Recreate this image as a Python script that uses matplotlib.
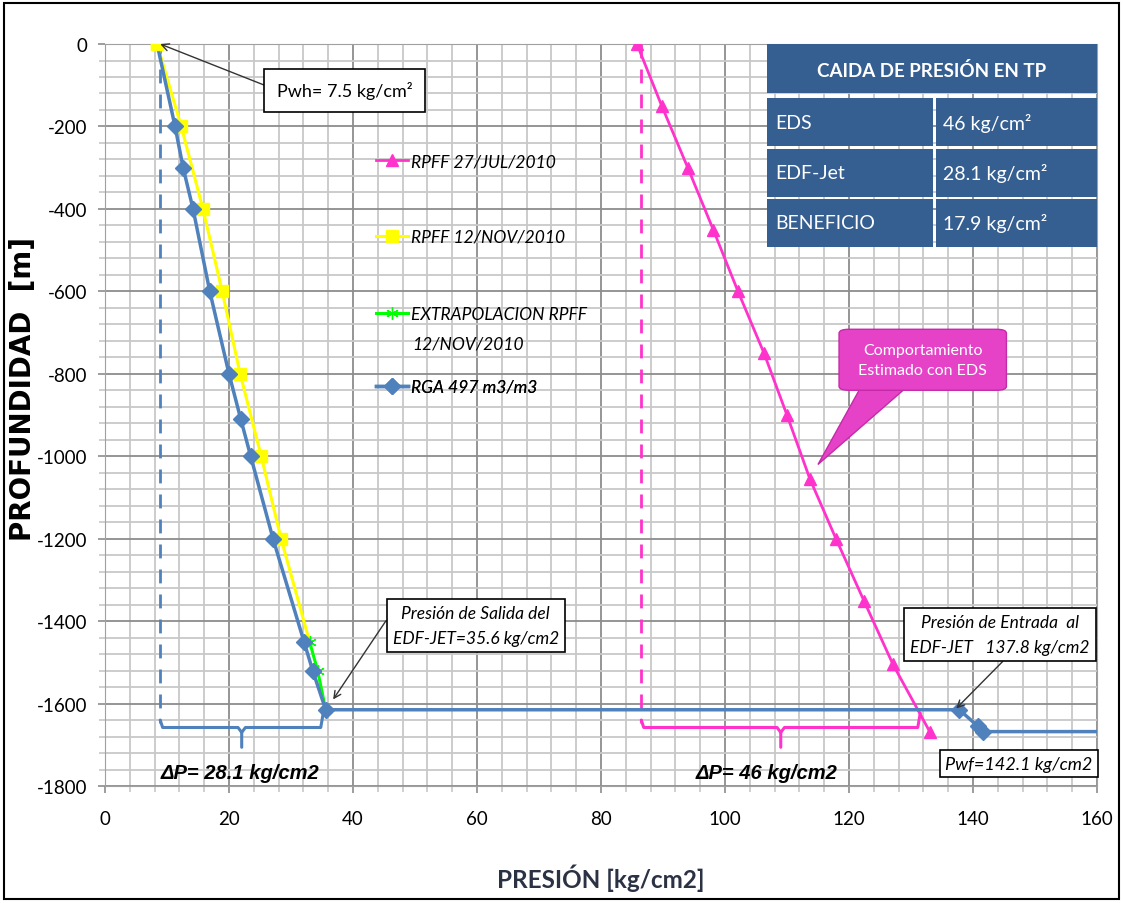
import numpy as np
import matplotlib
matplotlib.use('Agg')
import matplotlib.pyplot as plt
from matplotlib.patches import FancyBboxPatch, Polygon, Rectangle

plt.rcParams['axes.unicode_minus'] = False

# Data
# RPFF 27/JUL/2010 (pink triangles)
jul_p = [85.8, 89.8, 94.0, 98.1, 102.1, 106.3, 110.0, 113.7, 117.9, 122.4, 127.1, 133.1]
jul_d = [0, -150, -300, -450, -600, -750, -900, -1055, -1200, -1350, -1505, -1670]

# RPFF 12/NOV/2010 (yellow squares)
nov_p = [8.4, 12.3, 15.8, 18.9, 21.8, 25.2, 28.4, 33.0]
nov_d = [0, -200, -400, -600, -800, -1000, -1200, -1450]

# extrapolacion RPFF 12/NOV/2010 (green)
ext_p = [33.0, 34.3, 35.6]
ext_d = [-1450, -1520, -1615]

# RGA 497 m3/m3 (blue diamonds)
rga_p = [8.4, 11.3, 12.6, 14.2, 16.9, 20.0, 21.9, 23.5, 27.1, 32.1, 33.5, 35.6, 137.8, 140.8, 141.6, 160.0]
rga_d = [0, -200, -300, -400, -600, -800, -910, -1000, -1200, -1450, -1520, -1615, -1615, -1655, -1668, -1668]
rga_mark = [1, 2, 3, 4, 5, 6, 7, 8, 9, 10, 11, 12, 13, 14]

# table
tabla_titulo = 'CAIDA DE PRESIÓN EN TP'
tabla_filas = ['EDS', 'EDF-Jet', 'BENEFICIO']
tabla_vals = ['46 kg/cm²', '28.1 kg/cm²', '17.9 kg/cm²']

# brackets (delta P)
pwh_line = 8.9
eds_line = 86.5
salida = 35.2
entrada = 131.5
brace_d = -1658

c_blue = '#4F81BD'
c_pink = '#FF33CC'
c_yel = '#FFFF00'
c_grn = '#00FF00'
c_tab = '#365F91'

fig = plt.figure(figsize=(11.23, 9.04), dpi=100)
ax = fig.add_axes([0.0935, 0.1294, 0.8833, 0.8208])

ax.set_xlim(0, 160)
ax.set_ylim(-1800, 0)
ax.set_xticks(np.arange(0, 161, 20))
ax.set_yticks(np.arange(-1800, 1, 200))
ax.set_xticks(np.arange(0, 161, 4), minor=True)
ax.set_yticks(np.arange(-1800, 1, 40), minor=True)
ax.grid(which='minor', color='#C8C8C8', lw=1.3, zorder=0)
ax.grid(which='major', color='#8C8C8C', lw=1.3, zorder=0)
ax.tick_params(which='major', length=5, color='#8C8C8C', width=1.2)
ax.tick_params(which='minor', length=4, color='#C8C8C8', width=1.2)
ax.tick_params(axis='x', labelsize=13.5, pad=12)
ax.tick_params(axis='y', labelsize=13.5, pad=8)
for lab in ax.get_xticklabels() + ax.get_yticklabels():
    lab.set_family('Lato')
for s in ax.spines.values():
    s.set_color('#A0A0A0')

ax.set_xlabel('PRESIÓN [kg/cm2]', fontsize=17.5, fontweight='bold', family='Lato',
              color='#2B3244')
ax.xaxis.set_label_coords(0.5, -0.104)
ax.set_ylabel('PROFUNDIDAD  [m]', fontsize=20, fontweight='bold', family='DejaVu Sans')
ax.yaxis.set_label_coords(-0.069, 0.536)

# series
l_jul, = ax.plot(jul_p, jul_d, color=c_pink, lw=2, marker='^', ms=9, zorder=4)
l_nov, = ax.plot(nov_p, nov_d, color=c_yel, lw=2.2, marker='s', ms=9,
                 markevery=list(range(7)), zorder=4)
l_ext, = ax.plot(ext_p, ext_d, color=c_grn, lw=2.2, marker=(6, 2, 0), ms=9,
                 mec=c_grn, zorder=5)
l_rga, = ax.plot(rga_p, rga_d, color=c_blue, lw=2.5, marker='D', ms=8,
                 markevery=rga_mark, zorder=6)
# first blue marker hidden under yellow square
ax.plot(rga_p[:1], rga_d[:1], color=c_yel, marker='s', ms=9, zorder=7)

# dashed verticals and braces
ax.plot([pwh_line, pwh_line], [0, brace_d + 10], ls=(0, (5, 4)), color=c_blue, lw=2, zorder=3)
ax.plot([eds_line, eds_line], [0, brace_d + 10], ls=(0, (5, 4)), color=c_pink, lw=2, zorder=3)


def brace(x0, x1, col):
    xm = (x0 + x1) / 2
    ax.plot([x0, x0 + 0.4, xm - 0.6, xm, xm], [brace_d + 18, brace_d, brace_d, brace_d - 12, brace_d - 48],
            color=col, lw=2.2, zorder=3, solid_capstyle='round')
    ax.plot([xm, xm + 0.6, x1 - 0.4, x1], [brace_d - 12, brace_d, brace_d, brace_d + 35],
            color=col, lw=2.2, zorder=3, solid_capstyle='round')


brace(pwh_line, salida, c_blue)
brace(eds_line, entrada, c_pink)

# legend, one entry per box to match the spacing of the original
leg_items = [(l_jul, 'RPFF 27/JUL/2010', 0.842),
             (l_nov, 'RPFF 12/NOV/2010', 0.740),
             (l_ext, 'EXTRAPOLACION RPFF', 0.636),
             (l_rga, 'RGA 497 m3/m3', 0.538)]
leg_font = {'family': 'Lato', 'style': 'italic', 'size': 12.5}
for h, lab, yy in leg_items:
    lg = ax.legend(handles=[h], labels=[lab], loc='center left', bbox_to_anchor=(0.273, yy),
                   frameon=False, borderpad=0, borderaxespad=0, handlelength=1.85,
                   handletextpad=0.15, prop=leg_font)
    lg.set_zorder(7)
    ax.add_artist(lg)
ax.text(0.3095, 0.596, '12/NOV/2010', transform=ax.transAxes, ha='left', va='center',
        **{'family': 'Lato', 'style': 'italic', 'fontsize': 12.5})

# annotations
arr = dict(arrowstyle='->', color='#333333', lw=1, shrinkA=0, shrinkB=0)
ax.annotate('Pwh= 7.5 kg/cm²', xy=(pwh_line, 0), xytext=(38.7, -112),
            fontsize=13, family='Lato', ha='center', va='center', zorder=8,
            bbox=dict(boxstyle='square,pad=0.7', fc='white', ec='black', lw=1.2),
            arrowprops=dict(arr, relpos=(0, 0.5)))
box = dict(boxstyle='square,pad=0.35', fc='white', ec='black', lw=1.2)
ax.annotate('Presión de Salida del\nEDF-JET=35.6 kg/cm2', xy=(36.8, -1590), xytext=(59.8, -1410),
            fontsize=12.5, family='Lato', style='italic', ha='center', va='center', bbox=box,
            linespacing=1.7, zorder=8, arrowprops=dict(arr, relpos=(0, 0.85)))
ax.annotate('Presión de Entrada  al\nEDF-JET   137.8 kg/cm2', xy=(137.3, -1612), xytext=(144.4, -1432),
            fontsize=12.5, family='Lato', style='italic', ha='center', va='center', bbox=box,
            linespacing=1.7, zorder=8, arrowprops=dict(arr, relpos=(0.55, 0)))
ax.text(147.4, -1746, 'Pwf=142.1 kg/cm2', fontsize=13, family='Lato', style='italic',
        ha='center', va='center', bbox=dict(boxstyle='square,pad=0.3', fc='white', ec='black', lw=1.2),
        zorder=8)

ax.text(21.7, -1768, 'ΔP= 28.1 kg/cm2', fontsize=14.5, fontweight='bold', style='italic',
        family='Liberation Sans', ha='center', va='center', zorder=8)
ax.text(106.7, -1768, 'ΔP= 46 kg/cm2', fontsize=14.5, fontweight='bold', style='italic',
        family='Liberation Sans', ha='center', va='center', zorder=8)

# callout
ax.add_patch(Polygon([[122.0, -830], [129.5, -830], [115.0, -1020]], closed=True,
                     fc='#E542C8', ec='#C52AA8', lw=1, zorder=8))
ax.add_patch(FancyBboxPatch((118.4, -840), 27.0, 148, boxstyle='round,pad=0,rounding_size=1.6',
                            mutation_aspect=6, fc='#E542C8', ec='#C52AA8', lw=1, zorder=8))
ax.text(131.9, -766, 'Comportamiento\nEstimado con EDS', fontsize=11.5, family='Lato',
        color='white', ha='center', va='center', linespacing=1.5, zorder=9)

# table
tx0, tx1, txm = 106.8, 160.0, 133.8
ax.add_patch(Rectangle((tx0, -120), tx1 - tx0, 120, fc=c_tab, ec='white', lw=0, zorder=8))
ax.text((tx0 + tx1) / 2, -62, tabla_titulo, fontsize=13.5, fontweight='bold', family='Lato',
        color='white', ha='center', va='center', zorder=9)
for i, (r, v) in enumerate(zip(tabla_filas, tabla_vals)):
    top = -132 - i * 122
    ax.add_patch(Rectangle((tx0, top - 116), txm - tx0 - 0.2, 116, fc=c_tab, lw=0, zorder=8))
    ax.add_patch(Rectangle((txm + 0.2, top - 116), tx1 - txm - 0.2, 116, fc=c_tab, lw=0, zorder=8))
    ax.text(tx0 + 1.3, top - 58, r, fontsize=14, family='Lato', color='white',
            ha='left', va='center', zorder=9)
    ax.text(txm + 1.3, top - 58, v, fontsize=14, family='Lato', color='white',
            ha='left', va='center', zorder=9)

fig.add_artist(Rectangle((0.004, 0.004), 0.992, 0.992, transform=fig.transFigure,
                         fill=False, ec='black', lw=1.5))

fig.savefig('out.png', dpi=100)
